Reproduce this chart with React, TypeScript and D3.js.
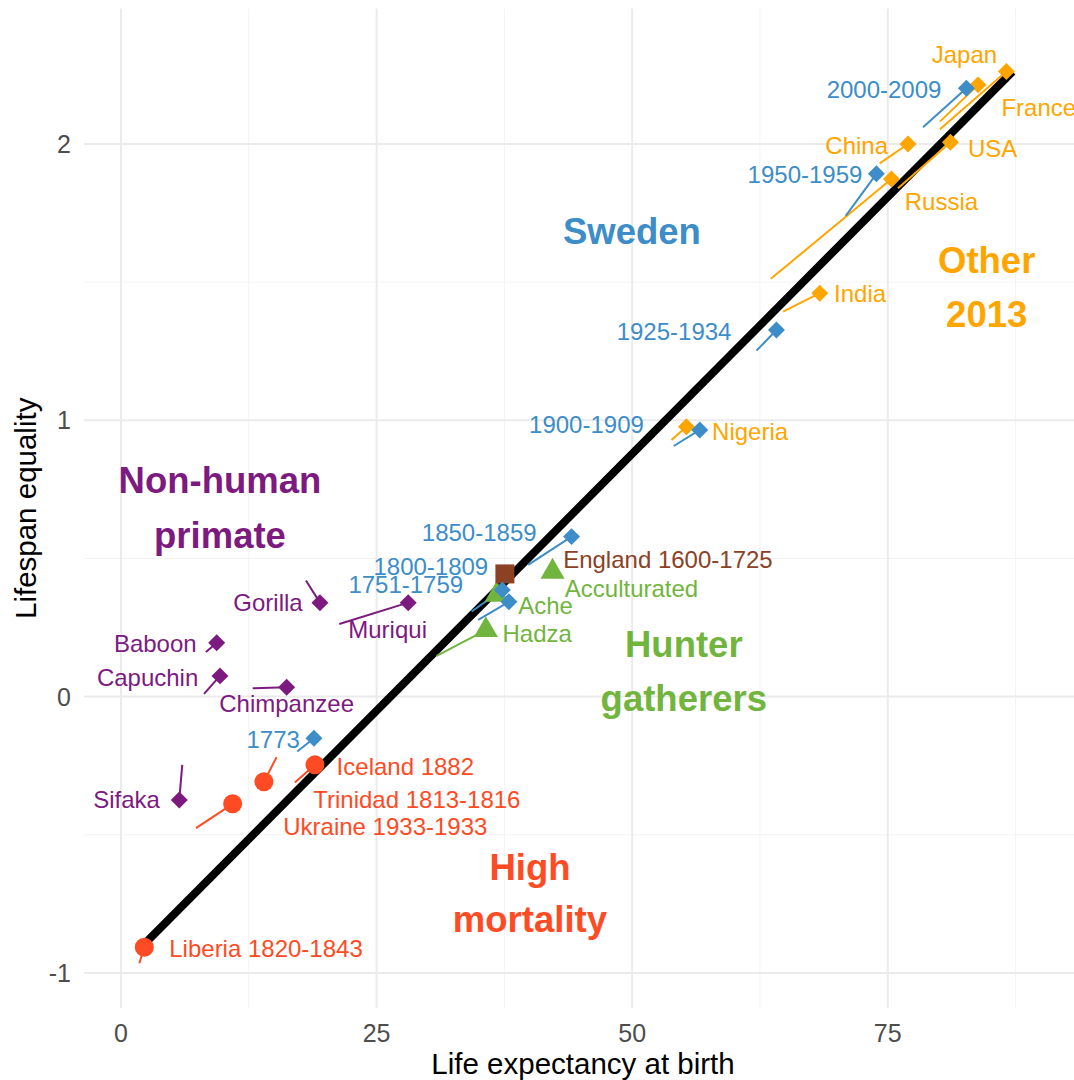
import React from "react";
import * as d3 from "d3";

const W = 1074;
const H = 1080;

// Colours per population group
const BLUE = "#3C8DC8";
const ORANGE = "#FFA500";
const PURPLE = "#7D1A7F";
const GREEN = "#72B53E";
const RED = "#FF4B23";
const BROWN = "#8C4125";

type Pt = { name: string; x: number; y: number; tx?: number; ty?: number };

// Life expectancy (x), lifespan equality (y), and the start of each trajectory tail (tx, ty)
const otherCountries: Pt[] = [
  { name: "Nigeria", x: 55.31, y: 0.977, tx: 53.85, ty: 0.929 },
  { name: "India", x: 68.35, y: 1.46, tx: 64.76, ty: 1.393 },
  { name: "Russia", x: 75.36, y: 1.873, tx: 63.56, ty: 1.512 },
  { name: "USA", x: 81.13, y: 2.006, tx: 76.0, ty: 1.84 },
  { name: "China", x: 76.98, y: 2.0, tx: 74.21, ty: 1.93 },
  { name: "France", x: 83.83, y: 2.214, tx: 80.1, ty: 2.081 },
  { name: "Japan", x: 86.6, y: 2.262, tx: 80.1, ty: 2.053 },
];

const swedenPeriods: Pt[] = [
  { name: "1773", x: 18.87, y: -0.151, tx: 17.24, ty: -0.199 },
  { name: "1751-1759", x: 37.94, y: 0.343, tx: 34.94, ty: 0.278 },
  { name: "1800-1809", x: 37.3, y: 0.386, tx: 34.29, ty: 0.308 },
  { name: "1850-1859", x: 44.07, y: 0.579, tx: 39.83, ty: 0.477 },
  { name: "1900-1909", x: 56.61, y: 0.965, tx: 54.07, ty: 0.907 },
  { name: "1925-1934", x: 64.11, y: 1.327, tx: 62.16, ty: 1.252 },
  { name: "1950-1959", x: 73.89, y: 1.892, tx: 70.89, ty: 1.74 },
  { name: "2000-2009", x: 82.69, y: 2.202, tx: 78.45, ty: 2.061 },
];

const hunterGatherers: Pt[] = [
  { name: "Acculturated", x: 42.21, y: 0.452 },
  { name: "Ache", x: 36.74, y: 0.368 },
  { name: "Hadza", x: 35.69, y: 0.241, tx: 30.87, ty: 0.147 },
];

const england: Pt[] = [{ name: "England 1600-1725", x: 37.55, y: 0.444 }];

const primates: Pt[] = [
  { name: "Gorilla", x: 19.46, y: 0.34, tx: 18.09, ty: 0.42 },
  { name: "Muriqui", x: 28.09, y: 0.34, tx: 21.35, ty: 0.263 },
  { name: "Baboon", x: 9.36, y: 0.195, tx: 8.31, ty: 0.161 },
  { name: "Capuchin", x: 9.68, y: 0.075, tx: 8.12, ty: 0.01 },
  { name: "Chimpanzee", x: 16.2, y: 0.034, tx: 12.88, ty: 0.03 },
  { name: "Sifaka", x: 5.7, y: -0.374, tx: 5.99, ty: -0.247 },
];

const highMortality: Pt[] = [
  { name: "Iceland 1882", x: 18.97, y: -0.247, tx: 17.01, ty: -0.311 },
  { name: "Trinidad 1813-1816", x: 13.98, y: -0.308, tx: 15.22, ty: -0.219 },
  { name: "Ukraine 1933-1933", x: 10.92, y: -0.388, tx: 7.33, ty: -0.476 },
  { name: "Liberia 1820-1843", x: 2.28, y: -0.907, tx: 1.79, ty: -0.965 },
];

// Overall linear relationship between the two measures
const fitX = [2.3, 87.2];
const fitY = [-0.895, 2.262];

// Repelled label anchors in data units: [name, x, y, text-anchor]
const labelSpots: [string, number, number, string][] = [
  ["Japan", 82.5, 2.322, "middle"],
  ["France", 86.12, 2.13, "start"],
  ["2000-2009", 80.25, 2.196, "end"],
  ["China", 75.03, 1.993, "end"],
  ["USA", 82.85, 1.985, "start"],
  ["1950-1959", 72.52, 1.888, "end"],
  ["Russia", 76.66, 1.792, "start"],
  ["India", 69.75, 1.457, "start"],
  ["1925-1934", 59.71, 1.321, "end"],
  ["1900-1909", 51.14, 0.983, "end"],
  ["Nigeria", 57.82, 0.959, "start"],
  ["1850-1859", 40.65, 0.595, "end"],
  ["England 1600-1725", 43.25, 0.497, "start"],
  ["1800-1809", 35.92, 0.471, "end"],
  ["1751-1759", 33.47, 0.404, "end"],
  ["Acculturated", 43.41, 0.392, "start"],
  ["Ache", 38.85, 0.328, "start"],
  ["Hadza", 37.32, 0.229, "start"],
  ["Gorilla", 17.77, 0.34, "end"],
  ["Muriqui", 22.23, 0.241, "start"],
  ["Baboon", 7.4, 0.191, "end"],
  ["Capuchin", 7.56, 0.07, "end"],
  ["Chimpanzee", 9.61, -0.024, "start"],
  ["1773", 17.5, -0.154, "end"],
  ["Sifaka", 3.81, -0.374, "end"],
  ["Iceland 1882", 21.09, -0.253, "start"],
  ["Trinidad 1813-1816", 18.8, -0.371, "start"],
  ["Ukraine 1933-1933", 15.87, -0.47, "start"],
  ["Liberia 1820-1843", 4.72, -0.911, "start"],
];

// Group headings: lines, centre x, y of each line
const groupTitles: { lines: string[]; x: number; y: number[]; color: string }[] = [
  { lines: ["Sweden"], x: 49.97, y: [1.685], color: BLUE },
  { lines: ["Other", "2013"], x: 84.68, y: [1.58, 1.385], color: ORANGE },
  { lines: ["Non-human", "primate"], x: 9.68, y: [0.784, 0.585], color: PURPLE },
  { lines: ["Hunter", "gatherers"], x: 55.05, y: [0.191, -0.005], color: GREEN },
  { lines: ["High", "mortality"], x: 40.0, y: [-0.616, -0.805], color: RED },
];

const xTicks = [0, 25, 50, 75];
const yTicks = [-1, 0, 1, 2];
const xMinor = [12.5, 37.5, 62.5, 87.5];
const yMinor = [-0.5, 0.5, 1.5];

const FONT = "'Liberation Sans', Arial, Helvetica, sans-serif";
const LABEL_SIZE = 24;
const GROUP_SIZE = 36.5;
const TICK_SIZE = 25;
const TITLE_SIZE = 29.5;

// ggplot-style filled diamond (square rotated 45 degrees)
const symbolGgDiamond = {
  draw(ctx: any, size: number) {
    const r = Math.sqrt(size / 2);
    ctx.moveTo(0, -r);
    ctx.lineTo(r, 0);
    ctx.lineTo(0, r);
    ctx.lineTo(-r, 0);
    ctx.closePath();
  },
};

export default function App() {
  const x = d3.scaleLinear().domain([-3.62, 94.0]).range([84, 1082]);
  const y = d3.scaleLinear().domain([-1.127, 2.49]).range([1008, 8.6]);

  const diamond = d3.symbol().type(symbolGgDiamond as any).size(144)();
  const circle = d3.symbol().type(d3.symbolCircle).size(Math.PI * 9.5 * 9.5)();
  const triangle = d3.symbol().type(d3.symbolTriangle).size(250)();
  const square = d3.symbol().type(d3.symbolSquare).size(361)();

  const colorOf: Record<string, string> = {};
  otherCountries.forEach((d) => (colorOf[d.name] = ORANGE));
  swedenPeriods.forEach((d) => (colorOf[d.name] = BLUE));
  hunterGatherers.forEach((d) => (colorOf[d.name] = GREEN));
  england.forEach((d) => (colorOf[d.name] = BROWN));
  primates.forEach((d) => (colorOf[d.name] = PURPLE));
  highMortality.forEach((d) => (colorOf[d.name] = RED));

  const layers: { pts: Pt[]; color: string; shape: string | null }[] = [
    { pts: primates, color: PURPLE, shape: diamond },
    { pts: highMortality, color: RED, shape: circle },
    { pts: hunterGatherers, color: GREEN, shape: triangle },
    { pts: england, color: BROWN, shape: square },
    { pts: otherCountries, color: ORANGE, shape: diamond },
    { pts: swedenPeriods, color: BLUE, shape: diamond },
  ];

  const line = d3.line<number>().x((_, i) => x(fitX[i])).y((_, i) => y(fitY[i]));
  const [px0, px1] = x.range();
  const [py0, py1] = [y.range()[1], y.range()[0]];

  return (
    <svg
      width={W}
      height={H}
      style={{ position: "absolute", left: 0, top: 0, background: "#fff" }}
      fontFamily={FONT}
    >
      <rect x={0} y={0} width={W} height={H} fill="#fff" />
      {/* grid */}
      <g>
        {xMinor.map((v) => (
          <line key={"xm" + v} x1={x(v)} x2={x(v)} y1={py0} y2={py1} stroke="#F3F3F3" strokeWidth={1} />
        ))}
        {yMinor.map((v) => (
          <line key={"ym" + v} x1={px0} x2={px1} y1={y(v)} y2={y(v)} stroke="#F3F3F3" strokeWidth={1} />
        ))}
        {xTicks.map((v) => (
          <line key={"x" + v} x1={x(v)} x2={x(v)} y1={py0} y2={py1} stroke="#EBEBEB" strokeWidth={2} />
        ))}
        {yTicks.map((v) => (
          <line key={"y" + v} x1={px0} x2={px1} y1={y(v)} y2={y(v)} stroke="#EBEBEB" strokeWidth={2} />
        ))}
      </g>

      {/* overall relationship */}
      <path d={line(fitX) || ""} stroke="#000" strokeWidth={8} fill="none" />

      {/* trajectory tails */}
      {layers.map((l, li) => (
        <g key={"t" + li}>
          {l.pts
            .filter((d) => d.tx !== undefined)
            .map((d) => (
              <line
                key={d.name}
                x1={x(d.tx as number)}
                y1={y(d.ty as number)}
                x2={x(d.x)}
                y2={y(d.y)}
                stroke={l.color}
                strokeWidth={2}
              />
            ))}
        </g>
      ))}

      {/* points */}
      {layers.map((l, li) => (
        <g key={"p" + li}>
          {l.pts.map((d) => (
            <path key={d.name} d={l.shape || ""} transform={`translate(${x(d.x)},${y(d.y)})`} fill={l.color} />
          ))}
        </g>
      ))}

      {/* point labels */}
      <g fontSize={LABEL_SIZE}>
        {labelSpots.map(([name, lx, ly, anchor]) => (
          <text
            key={name}
            x={x(lx)}
            y={y(ly) + LABEL_SIZE * 0.35}
            textAnchor={anchor}
            fill={colorOf[name]}
          >
            {name}
          </text>
        ))}
      </g>

      {/* group headings */}
      <g fontSize={GROUP_SIZE} fontWeight="bold">
        {groupTitles.map((g) =>
          g.lines.map((t, i) => (
            <text key={t} x={x(g.x)} y={y(g.y[i]) + GROUP_SIZE * 0.36} textAnchor="middle" fill={g.color}>
              {t}
            </text>
          ))
        )}
      </g>

      {/* axes */}
      <g fontSize={TICK_SIZE} fill="#4D4D4D">
        {xTicks.map((v) => (
          <text key={"xl" + v} x={x(v)} y={1042} textAnchor="middle">
            {v}
          </text>
        ))}
        {yTicks.map((v) => (
          <text key={"yl" + v} x={71} y={y(v) + TICK_SIZE * 0.36} textAnchor="end">
            {v}
          </text>
        ))}
      </g>
      <text x={(px0 + px1) / 2} y={1074} textAnchor="middle" fontSize={TITLE_SIZE} fill="#000">
        Life expectancy at birth
      </text>
      <text
        transform={`translate(36,${(py0 + py1) / 2}) rotate(-90)`}
        textAnchor="middle"
        fontSize={TITLE_SIZE}
        fill="#000"
      >
        Lifespan equality
      </text>
    </svg>
  );
}
